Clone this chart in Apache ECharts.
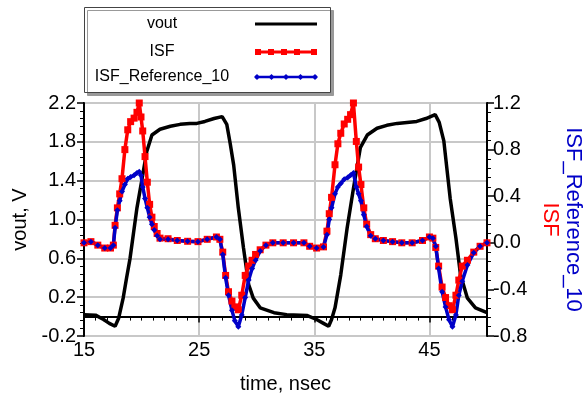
<!DOCTYPE html>
<html>
<head>
<meta charset="utf-8">
<script src="https://cdn.jsdelivr.net/npm/echarts@6/dist/echarts.min.js"></script>
<style>
  html, body { margin: 0; padding: 0; background: #fff; }
  #chart { width: 583px; height: 395px; }
</style>
</head>
<body>
<div id="chart"></div>
<script>
// time axis of vout (nsec) and its values (V)
const voutTime = [15.0, 16.0, 16.7, 17.2, 17.7, 18.0, 18.4, 18.7, 19.0, 19.3, 19.6, 20.0, 20.45, 20.9, 21.6, 22.5, 23.35, 24.2, 24.8, 25.5, 26.3, 27.0, 27.4, 27.7, 28.0, 28.4, 28.85, 29.3, 29.7, 30.3, 31.5, 32.6, 34.4, 35.2, 35.8, 36.25, 36.5, 36.8, 37.3, 37.85, 38.4, 39.0, 39.6, 40.45, 41.3, 42.2, 43.9, 44.7, 45.5, 45.85, 46.25, 46.8, 47.3, 47.7, 48.3, 49.0, 50.0];
const vout = [0.02, 0.015, -0.03, -0.07, -0.1, -0.02, 0.19, 0.4, 0.6, 0.86, 1.12, 1.39, 1.70, 1.87, 1.93, 1.96, 1.98, 1.99, 1.99, 2.01, 2.04, 2.06, 1.98, 1.78, 1.56, 1.12, 0.71, 0.33, 0.19, 0.09, 0.04, 0.02, 0.01, -0.03, -0.07, -0.1, -0.03, 0.09, 0.43, 0.91, 1.32, 1.74, 1.87, 1.94, 1.97, 1.99, 2.01, 2.04, 2.08, 2.0, 1.81, 1.22, 0.81, 0.43, 0.19, 0.09, 0.04];

// time axis shared by the two ISF curves
const isfTime = [15.0, 15.6, 16.2, 16.8, 17.3, 17.55, 17.7, 17.9, 18.1, 18.3, 18.55, 18.8, 19.05, 19.35, 19.6, 19.8, 19.95, 20.1, 20.3, 20.5, 20.7, 20.9, 21.1, 21.35, 21.6, 22.3, 23.1, 24.0, 24.9, 25.7, 26.5, 26.8, 27.05, 27.3, 27.55, 27.85, 28.1, 28.4, 28.7, 29.0, 29.3, 29.6, 29.9, 30.3, 30.8, 31.4, 32.3, 33.2, 34.1, 34.6, 35.2, 35.8, 36.1, 36.3, 36.5, 36.8, 37.05, 37.3, 37.6, 37.9, 38.15, 38.4, 38.65, 38.85, 39.05, 39.3, 39.55, 39.9, 40.3, 41.0, 41.8, 42.6, 43.5, 44.4, 45.0, 45.3, 45.55, 45.8, 46.1, 46.4, 46.7, 47.0, 47.3, 47.55, 47.85, 48.3, 48.85, 49.4, 50.0];
const isf = [0.0, 0.01, -0.02, -0.045, -0.045, -0.02, 0.15, 0.30, 0.42, 0.55, 0.80, 0.97, 1.04, 1.07, 1.12, 1.20, 1.08, 0.96, 0.74, 0.52, 0.33, 0.22, 0.14, 0.08, 0.04, 0.035, 0.02, 0.013, 0.01, 0.03, 0.05, 0.03, -0.08, -0.28, -0.42, -0.50, -0.55, -0.575, -0.45, -0.28, -0.20, -0.15, -0.10, -0.06, -0.02, 0.0, 0.0, 0.0, 0.0, -0.03, -0.045, -0.035, 0.10, 0.25, 0.39, 0.67, 0.85, 0.94, 1.02, 1.06, 1.10, 1.20, 0.87, 0.65, 0.50, 0.30, 0.16, 0.07, 0.035, 0.02, 0.01, 0.0, 0.0, 0.02, 0.05, 0.04, -0.04, -0.20, -0.38, -0.47, -0.54, -0.575, -0.45, -0.32, -0.20, -0.15, -0.08, -0.03, 0.0];
const isfRef = [0.0, 0.01, -0.02, -0.045, -0.045, -0.02, 0.13, 0.28, 0.36, 0.44, 0.50, 0.55, 0.565, 0.58, 0.60, 0.61, 0.58, 0.48, 0.38, 0.30, 0.22, 0.16, 0.11, 0.06, 0.03, 0.03, 0.02, 0.013, 0.01, 0.03, 0.05, 0.03, -0.10, -0.30, -0.45, -0.58, -0.67, -0.72, -0.62, -0.47, -0.32, -0.22, -0.15, -0.07, -0.02, 0.0, 0.0, 0.0, 0.0, -0.03, -0.045, -0.035, 0.07, 0.20, 0.30, 0.42, 0.48, 0.51, 0.545, 0.56, 0.58, 0.60, 0.48, 0.42, 0.36, 0.24, 0.14, 0.06, 0.035, 0.02, 0.01, 0.0, 0.0, 0.02, 0.05, 0.04, -0.03, -0.22, -0.42, -0.55, -0.66, -0.72, -0.62, -0.45, -0.33, -0.19, -0.085, -0.03, 0.0];

const seriesNames = ['vout', 'ISF', 'ISF_Reference_10'];
const seriesColors = ['#000', '#ff0000', '#0000c8'];

const font = 'Liberation Sans, Arial, sans-serif';

const chart = echarts.init(document.getElementById('chart'));

const zip = (xs, ys) => xs.map((x, i) => [x, ys[i]]);

// legend box drawn by hand: centred labels with the sample line on the right
const rowY = [24, 52, 77];
const legendParts = [
  {
    type: 'rect',
    shape: { x: 84.5, y: 7.5, width: 246, height: 85 },
    style: { fill: '#fff', stroke: '#444', lineWidth: 1, shadowColor: '#999', shadowOffsetX: 3, shadowOffsetY: 3, shadowBlur: 0 }
  }
];
seriesNames.forEach((name, i) => {
  legendParts.push({
    type: 'text',
    x: 162, y: rowY[i],
    style: { text: name, fontSize: 16, fontFamily: font, fill: '#000', textAlign: 'center', textVerticalAlign: 'middle' }
  });
  legendParts.push({
    type: 'line',
    shape: { x1: 255, y1: rowY[i], x2: 317, y2: rowY[i] },
    style: { stroke: seriesColors[i], lineWidth: i === 2 ? 2.5 : 3 }
  });
});
[255, 268, 281, 294, 311].forEach(x => {
  legendParts.push({ type: 'rect', shape: { x: x, y: rowY[1] - 3, width: 6, height: 6 }, style: { fill: seriesColors[1] } });
});
[257, 271.5, 286, 300.5, 315].forEach(x => {
  legendParts.push({
    type: 'polygon',
    shape: { points: [[x - 3, rowY[2]], [x, rowY[2] - 3], [x + 3, rowY[2]], [x, rowY[2] + 3]] },
    style: { fill: seriesColors[2] }
  });
});

const option = {
  animation: false,
  backgroundColor: '#fff',
  grid: {
    left: 84, right: 96, top: 103, bottom: 59,
    outerBoundsMode: 'none',
    containLabel: false,
    show: true, borderColor: '#000', borderWidth: 2
  },
  graphic: [{ type: 'group', z: 100, children: legendParts }],
  xAxis: {
    type: 'value',
    min: 15, max: 50, interval: 10,
    name: 'time, nsec',
    nameLocation: 'middle',
    nameGap: 38,
    nameTextStyle: { fontSize: 20, fontFamily: font, color: '#000' },
    axisLine: { show: true, lineStyle: { color: '#000', width: 2 } },
    axisTick: { show: true, length: 6, lineStyle: { color: '#000', width: 1.5 } },
    minorTick: { show: true, splitNumber: 10, length: 4, lineStyle: { color: '#000', width: 1 } },
    axisLabel: { fontSize: 20, fontFamily: font, color: '#000', margin: 4, showMaxLabel: false },
    splitLine: { show: true, lineStyle: { color: '#c8c8c8', width: 2 } }
  },
  yAxis: [
    {
      type: 'value',
      min: -0.2, max: 2.2, interval: 0.4,
      name: 'vout, V',
      nameLocation: 'middle',
      nameGap: 52,
      nameTextStyle: { fontSize: 20, fontFamily: font, color: '#000' },
      axisLine: { show: true, lineStyle: { color: '#000', width: 2 } },
      axisTick: { show: true, length: 7, lineStyle: { color: '#000', width: 1.5 } },
      minorTick: { show: true, splitNumber: 5, length: 4, lineStyle: { color: '#000', width: 1 } },
      axisLabel: { fontSize: 20, fontFamily: font, color: '#000', margin: 8, formatter: v => v.toFixed(1) },
      splitLine: { show: true, lineStyle: { color: '#c8c8c8', width: 2 } }
    },
    {
      type: 'value',
      min: -0.8, max: 1.2, interval: 0.4,
      name: '{b|ISF_Reference_10}\n{r|ISF}',
      nameLocation: 'middle',
      nameRotate: -90,
      nameGap: 52,
      nameTextStyle: {
        rich: {
          b: { fontSize: 22, fontFamily: font, color: '#0000c8', lineHeight: 23 },
          r: { fontSize: 22, fontFamily: font, color: '#ff0000', lineHeight: 23 }
        }
      },
      axisLine: { show: true, lineStyle: { color: '#000', width: 2 } },
      axisTick: { show: true, length: 7, lineStyle: { color: '#000', width: 1.5 } },
      minorTick: { show: true, splitNumber: 5, length: 4, lineStyle: { color: '#000', width: 1 } },
      axisLabel: { fontSize: 20, fontFamily: font, color: '#000', margin: 6, formatter: v => v.toFixed(1) },
      splitLine: { show: false }
    }
  ],
  series: [
    {
      name: seriesNames[0],
      type: 'line',
      yAxisIndex: 0,
      data: zip(voutTime, vout),
      showSymbol: false,
      lineStyle: { color: seriesColors[0], width: 3.5 },
      itemStyle: { color: seriesColors[0] }
    },
    {
      name: seriesNames[1],
      type: 'line',
      yAxisIndex: 1,
      data: zip(isfTime, isf),
      symbol: 'rect',
      symbolSize: 7,
      showSymbol: true,
      lineStyle: { color: seriesColors[1], width: 3.5 },
      itemStyle: { color: seriesColors[1] }
    },
    {
      name: seriesNames[2],
      type: 'line',
      yAxisIndex: 1,
      data: zip(isfTime, isfRef),
      symbol: 'diamond',
      symbolSize: 6,
      showSymbol: true,
      lineStyle: { color: seriesColors[2], width: 3.5 },
      itemStyle: { color: seriesColors[2] }
    }
  ]
};

chart.setOption(option);
</script>
</body>
</html>
